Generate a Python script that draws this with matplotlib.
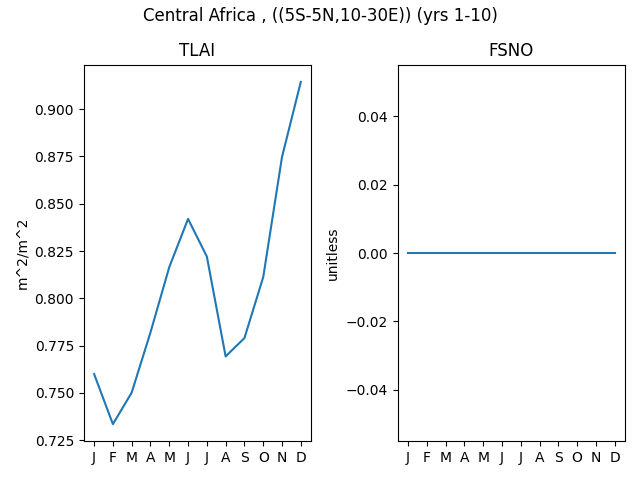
import matplotlib
matplotlib.use("Agg")
import matplotlib.pyplot as plt
import numpy as np

months = ['J', 'F', 'M', 'A', 'M', 'J', 'J', 'A', 'S', 'O', 'N', 'D']

# TLAI monthly climatology
tlai = [0.7600, 0.7335, 0.7502, 0.7820, 0.8165, 0.8420,
        0.8221, 0.7693, 0.7790, 0.8112, 0.8747, 0.9144]
# FSNO monthly climatology
fsno = [0.0, 0.0, 0.0, 0.0, 0.0, 0.0, 0.0, 0.0, 0.0, 0.0, 0.0, 0.0]

x = np.arange(len(months))

fig, (ax1, ax2) = plt.subplots(1, 2, figsize=(6.4, 4.8), dpi=100)
fig.suptitle('Central Africa , ((5S-5N,10-30E)) (yrs 1-10)', y=0.985)

ax1.plot(x, tlai)
ax1.set_title('TLAI')
ax1.set_ylabel('m^2/m^2')
ax1.set_xticks(x)
ax1.set_xticklabels(months)

ax2.plot(x, fsno)
ax2.set_title('FSNO')
ax2.set_ylabel('unitless')
ax2.set_xticks(x)
ax2.set_xticklabels(months)

fig.tight_layout()
fig.subplots_adjust(top=0.865)
fig.savefig('out.png')
